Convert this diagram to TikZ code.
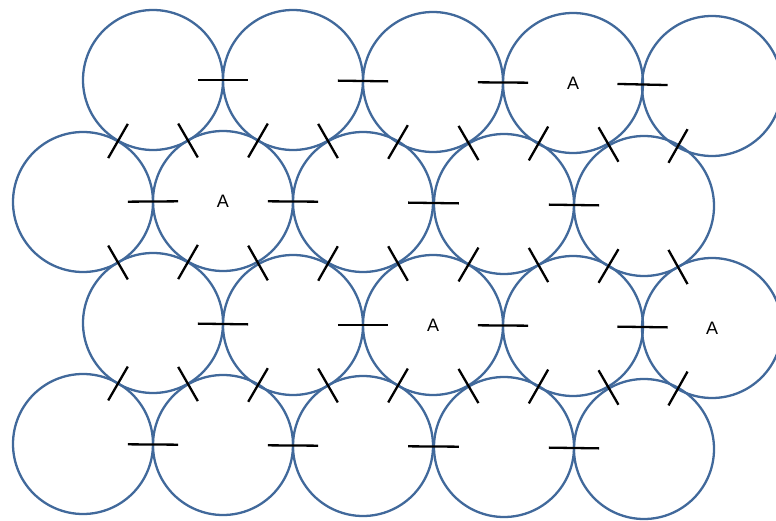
\documentclass[tikz,border=0pt]{standalone}
\usepackage{fontspec}
\setmainfont{Liberation Sans}
\usetikzlibrary{calc}
\definecolor{rim}{HTML}{41699B}

\begin{document}
\begin{tikzpicture}[x=1pt, y=-1pt,
  ball/.style={circle, draw=rim, line width=2.3pt, minimum size=140pt, inner sep=0pt, font=\fontsize{18}{18}\selectfont},
  notch/.style={draw=black, line width=2.3pt}]
\useasboundingbox (0,0) rectangle (776,521);

% ---- row 1 (top)
\node[ball] (r1c1) at (153,80) {};
\node[ball] (r1c2) at (293,80) {};
\node[ball] (r1c3) at (433,82) {};
\node[ball] (r1c4) at (573,83) {A};
\node[ball] (r1c5) at (712,86) {};
% ---- row 2
\node[ball] (r2c1) at (83,202) {};
\node[ball] (r2c2) at (223,201) {A};
\node[ball] (r2c3) at (363,202) {};
\node[ball] (r2c4) at (504,204) {};
\node[ball] (r2c5) at (644,206) {};
% ---- row 3
\node[ball] (r3c1) at (153,323) {};
\node[ball] (r3c2) at (293,325) {};
\node[ball] (r3c3) at (433,325) {A};
\node[ball] (r3c4) at (573,326) {};
\node[ball] (r3c5) at (712,328) {A};
% ---- row 4 (bottom)
\node[ball] (r4c1) at (83,444) {};
\node[ball] (r4c2) at (223,445) {};
\node[ball] (r4c3) at (363,446) {};
\node[ball] (r4c4) at (504,447) {};
\node[ball] (r4c5) at (644,449) {};

% ---- contacts in a row
\draw[notch] ($(r1c1)!0.32!(r1c2)$) -- ($(r1c1)!0.68!(r1c2)$);
\draw[notch] ($(r1c2)!0.32!(r1c3)$) -- ($(r1c2)!0.68!(r1c3)$);
\draw[notch] ($(r1c3)!0.32!(r1c4)$) -- ($(r1c3)!0.68!(r1c4)$);
\draw[notch] ($(r1c4)!0.32!(r1c5)$) -- ($(r1c4)!0.68!(r1c5)$);
\draw[notch] ($(r2c1)!0.32!(r2c2)$) -- ($(r2c1)!0.68!(r2c2)$);
\draw[notch] ($(r2c2)!0.32!(r2c3)$) -- ($(r2c2)!0.68!(r2c3)$);
\draw[notch] ($(r2c3)!0.32!(r2c4)$) -- ($(r2c3)!0.68!(r2c4)$);
\draw[notch] ($(r2c4)!0.32!(r2c5)$) -- ($(r2c4)!0.68!(r2c5)$);
\draw[notch] ($(r3c1)!0.32!(r3c2)$) -- ($(r3c1)!0.68!(r3c2)$);
\draw[notch] ($(r3c2)!0.32!(r3c3)$) -- ($(r3c2)!0.68!(r3c3)$);
\draw[notch] ($(r3c3)!0.32!(r3c4)$) -- ($(r3c3)!0.68!(r3c4)$);
\draw[notch] ($(r3c4)!0.32!(r3c5)$) -- ($(r3c4)!0.68!(r3c5)$);
\draw[notch] ($(r4c1)!0.32!(r4c2)$) -- ($(r4c1)!0.68!(r4c2)$);
\draw[notch] ($(r4c2)!0.32!(r4c3)$) -- ($(r4c2)!0.68!(r4c3)$);
\draw[notch] ($(r4c3)!0.32!(r4c4)$) -- ($(r4c3)!0.68!(r4c4)$);
\draw[notch] ($(r4c4)!0.32!(r4c5)$) -- ($(r4c4)!0.68!(r4c5)$);

% ---- contacts between rows 1 and 2
\draw[notch] ($(r1c1)!0.36!(r2c1)$) -- ($(r1c1)!0.64!(r2c1)$);
\draw[notch] ($(r1c1)!0.36!(r2c2)$) -- ($(r1c1)!0.64!(r2c2)$);
\draw[notch] ($(r1c2)!0.36!(r2c2)$) -- ($(r1c2)!0.64!(r2c2)$);
\draw[notch] ($(r1c2)!0.36!(r2c3)$) -- ($(r1c2)!0.64!(r2c3)$);
\draw[notch] ($(r1c3)!0.36!(r2c3)$) -- ($(r1c3)!0.64!(r2c3)$);
\draw[notch] ($(r1c3)!0.36!(r2c4)$) -- ($(r1c3)!0.64!(r2c4)$);
\draw[notch] ($(r1c4)!0.36!(r2c4)$) -- ($(r1c4)!0.64!(r2c4)$);
\draw[notch] ($(r1c4)!0.36!(r2c5)$) -- ($(r1c4)!0.64!(r2c5)$);
\draw[notch] ($(r1c5)!0.36!(r2c5)$) -- ($(r1c5)!0.64!(r2c5)$);
% ---- contacts between rows 2 and 3
\draw[notch] ($(r2c1)!0.36!(r3c1)$) -- ($(r2c1)!0.64!(r3c1)$);
\draw[notch] ($(r2c2)!0.36!(r3c1)$) -- ($(r2c2)!0.64!(r3c1)$);
\draw[notch] ($(r2c2)!0.36!(r3c2)$) -- ($(r2c2)!0.64!(r3c2)$);
\draw[notch] ($(r2c3)!0.36!(r3c2)$) -- ($(r2c3)!0.64!(r3c2)$);
\draw[notch] ($(r2c3)!0.36!(r3c3)$) -- ($(r2c3)!0.64!(r3c3)$);
\draw[notch] ($(r2c4)!0.36!(r3c3)$) -- ($(r2c4)!0.64!(r3c3)$);
\draw[notch] ($(r2c4)!0.36!(r3c4)$) -- ($(r2c4)!0.64!(r3c4)$);
\draw[notch] ($(r2c5)!0.36!(r3c4)$) -- ($(r2c5)!0.64!(r3c4)$);
\draw[notch] ($(r2c5)!0.36!(r3c5)$) -- ($(r2c5)!0.64!(r3c5)$);
% ---- contacts between rows 3 and 4
\draw[notch] ($(r3c1)!0.36!(r4c1)$) -- ($(r3c1)!0.64!(r4c1)$);
\draw[notch] ($(r3c1)!0.36!(r4c2)$) -- ($(r3c1)!0.64!(r4c2)$);
\draw[notch] ($(r3c2)!0.36!(r4c2)$) -- ($(r3c2)!0.64!(r4c2)$);
\draw[notch] ($(r3c2)!0.36!(r4c3)$) -- ($(r3c2)!0.64!(r4c3)$);
\draw[notch] ($(r3c3)!0.36!(r4c3)$) -- ($(r3c3)!0.64!(r4c3)$);
\draw[notch] ($(r3c3)!0.36!(r4c4)$) -- ($(r3c3)!0.64!(r4c4)$);
\draw[notch] ($(r3c4)!0.36!(r4c4)$) -- ($(r3c4)!0.64!(r4c4)$);
\draw[notch] ($(r3c4)!0.36!(r4c5)$) -- ($(r3c4)!0.64!(r4c5)$);
\draw[notch] ($(r3c5)!0.36!(r4c5)$) -- ($(r3c5)!0.64!(r4c5)$);
\end{tikzpicture}
\end{document}
